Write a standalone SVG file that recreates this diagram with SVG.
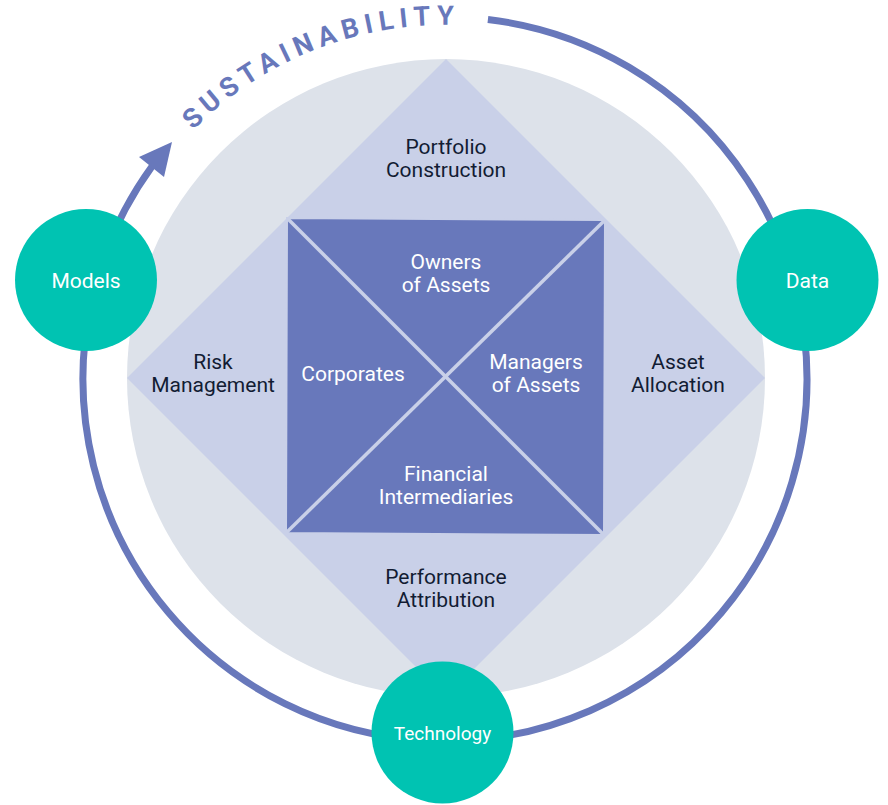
<svg xmlns="http://www.w3.org/2000/svg" width="888" height="805" viewBox="0 0 888 805">
<defs>
<style>
.lbl{font-family:Roboto,"Liberation Sans",sans-serif;font-size:21px;fill:#121c33;text-anchor:middle}
.wlbl{font-family:Roboto,"Liberation Sans",sans-serif;font-size:21px;fill:#ffffff;text-anchor:middle}
.node{fill:#00C3B2}
.ntxt{font-family:Roboto,"Liberation Sans",sans-serif;font-size:21px;fill:#ffffff;text-anchor:middle}
.ntxt.small{font-size:19px}
.ring{fill:none;stroke:#6878BB;stroke-width:7}
.diag{stroke:#C9D0E8;stroke-width:3.5}
</style>
<path id="sustPath" d="M186.1,137.6 A354,354 0 0 1 469.7,25.8"/>
</defs>
<rect width="888" height="805" fill="#ffffff"/>
<g id="background">
<circle cx="446" cy="378" r="319" fill="#DDE2EA"/>
<polygon points="446,59 765,378 446,697 127,378" fill="#C9D0E8"/>
</g>
<g id="connectors">
<path class="ring" d="M487.9,19.5 A362,362 0 1 1 152.1,166.2"/>
<polygon points="139,157 172,142 164,177" fill="#6878BB"/>
</g>
<g id="sustainability">
<text font-family="Roboto,'Liberation Sans',sans-serif" font-size="27" font-weight="bold" fill="#6878BB" letter-spacing="6"><textPath href="#sustPath" startOffset="50%" text-anchor="middle">SUSTAINABILITY</textPath></text>
</g>
<g id="square">
<polygon points="287,218 605,220 604,535 286,533" fill="#6878BB" stroke="#C9D0E8" stroke-width="2"/>
<line class="diag" x1="287" y1="218" x2="604" y2="535"/>
<line class="diag" x1="605" y1="220" x2="286" y2="533"/>
</g>
<g id="portfolio-construction">
<text class="lbl" x="446" y="154">Portfolio</text>
<text class="lbl" x="446" y="177">Construction</text>
</g>
<g id="risk-management">
<text class="lbl" x="213" y="369">Risk</text>
<text class="lbl" x="213" y="392">Management</text>
</g>
<g id="asset-allocation">
<text class="lbl" x="678" y="369">Asset</text>
<text class="lbl" x="678" y="392">Allocation</text>
</g>
<g id="performance-attribution">
<text class="lbl" x="446" y="584">Performance</text>
<text class="lbl" x="446" y="607">Attribution</text>
</g>
<g id="owners-of-assets">
<text class="wlbl" x="446" y="269">Owners</text>
<text class="wlbl" x="446" y="292">of Assets</text>
</g>
<g id="corporates">
<text class="wlbl" x="353" y="381">Corporates</text>
</g>
<g id="managers-of-assets">
<text class="wlbl" x="536" y="369">Managers</text>
<text class="wlbl" x="536" y="392">of Assets</text>
</g>
<g id="financial-intermediaries">
<text class="wlbl" x="446" y="481">Financial</text>
<text class="wlbl" x="446" y="504">Intermediaries</text>
</g>
<g id="models">
<circle class="node" cx="86" cy="280" r="71"/>
<text class="ntxt" x="86" y="288">Models</text>
</g>
<g id="data">
<circle class="node" cx="807.5" cy="280" r="71"/>
<text class="ntxt" x="807.5" y="288">Data</text>
</g>
<g id="technology">
<circle class="node" cx="442.5" cy="732.5" r="71"/>
<text class="ntxt small" x="442.5" y="740">Technology</text>
</g>
</svg>
